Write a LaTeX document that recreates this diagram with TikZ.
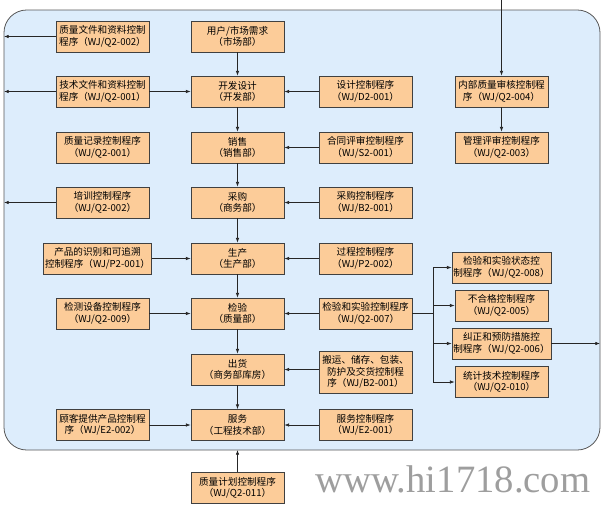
\documentclass[tikz,border=0pt]{standalone}
\usepackage{fontspec}
\usetikzlibrary{arrows.meta}
\setmainfont{Noto Sans CJK SC}
\newfontfamily\wmfont{Liberation Serif}
\definecolor{bgblue}{RGB}{221,237,252}
\definecolor{boxtan}{RGB}{252,204,153}
\tikzset{
  box/.style={draw=black!75, line width=0.6pt, fill=boxtan, align=center, inner sep=1pt,
    minimum width=69.75pt, minimum height=23.25pt, font=\fontsize{7.2}{8.6}\selectfont},
  arr/.style={-{Latex[length=3.5pt,width=2.6pt]}, line width=0.5pt, black!85},
  line/.style={line width=0.5pt, black!85}
}

\begin{document}
\begin{tikzpicture}[x=0.75pt, y=-0.75pt]
    \useasboundingbox (0,0) rectangle (608,507);
    \fill[white] (0,0) rectangle (608,507);
    \draw[fill=bgblue, draw=black!65, line width=0.6pt, rounded corners=17pt] (4,10) rectangle (600,450);
    \coordinate (lb) at (4,0);
    \coordinate (rb) at (600,0);
    \coordinate (bot) at (237.5,450);
    \coordinate (top) at (501.5,0);
    \coordinate (bus) at (433,0);
    % centre column
    \node[box] (user) at (237.5,36.5) {用户/市场需求\\（市场部）};
    \node[box] (dev) at (237.5,91.5) {开发设计\\（开发部）};
    \node[box] (sales) at (237.5,147.5) {销售\\（销售部）};
    \node[box] (purch) at (237.5,202.5) {采购\\（商务部）};
    \node[box] (prod) at (237.5,258.5) {生产\\（生产部）};
    \node[box] (insp) at (237.5,313.5) {检验\\（质量部）};
    \node[box] (ship) at (237.5,369.5) {出货\\（商务部库房）};
    \node[box] (serv) at (237.5,425) {服务\\（工程技术部）};
    \node[box] (plan) at (237.5,488) {质量计划控制程序\\（WJ/Q2-011）};
    % left column
    \node[box] (qdoc) at (102.5,36.5) {质量文件和资料控制\\程序（WJ/Q2-002）};
    \node[box] (tdoc) at (102.5,91.5) {技术文件和资料控制\\程序（WJ/Q2-001）};
    \node[box] (qrec) at (102.5,147.5) {质量记录控制程序\\（WJ/Q2-001）};
    \node[box] (train) at (102.5,202.5) {培训控制程序\\（WJ/Q2-002）};
    \node[box, minimum width=77.25pt] (ident) at (97.5,258.5) {产品的识别和可追溯\\控制程序（WJ/P2-001）};
    \node[box] (meas) at (102.5,313.5) {检测设备控制程序\\（WJ/Q2-009）};
    \node[box] (cust) at (102.5,425) {顾客提供产品控制程\\序（WJ/E2-002）};
    % right column
    \node[box] (dctl) at (365.5,91.5) {设计控制程序\\（WJ/D2-001）};
    \node[box] (cctl) at (365.5,147.5) {合同评审控制程序\\（WJ/S2-001）};
    \node[box] (pctl) at (365.5,202.5) {采购控制程序\\（WJ/B2-001）};
    \node[box] (proc) at (365.5,258.5) {过程控制程序\\（WJ/P2-002）};
    \node[box] (ictl) at (365.5,313.5) {检验和实验控制程序\\（WJ/Q2-007）};
    \node[box, minimum height=31.5pt] (hand) at (365.5,372) {搬运、储存、包装、\\防护及交货控制程\\序（WJ/B2-001）};
    \node[box] (sctl) at (365.5,425) {服务控制程序\\（WJ/E2-001）};
    % far right column
    \node[box] (audit) at (501.5,91.5) {内部质量审核控制程\\序（WJ/Q2-004）};
    \node[box] (review) at (501.5,147.5) {管理评审控制程序\\（WJ/Q2-003）};
    \node[box] (stat) at (501.5,267.5) {检验和实验状态控\\制程序（WJ/Q2-008）};
    \node[box] (ncon) at (501.5,305.5) {不合格控制程序\\（WJ/Q2-005）};
    \node[box] (corr) at (501.5,343.5) {纠正和预防措施控\\制程序（WJ/Q2-006）};
    \node[box] (tech) at (501.5,382) {统计技术控制程序\\（WJ/Q2-010）};
    % flow
    \draw[arr] (user) -- (dev);
    \draw[arr] (dev) -- (sales);
    \draw[arr] (sales) -- (purch);
    \draw[arr] (purch) -- (prod);
    \draw[arr] (prod) -- (insp);
    \draw[arr] (insp) -- (ship);
    \draw[arr] (ship) -- (serv);
    \draw[arr] (plan) -- (bot);
    \draw[arr] (qdoc) -- (qdoc -| lb);
    \draw[arr] (tdoc) -- (tdoc -| lb);
    \draw[arr] (train) -- (train -| lb);
    \draw[arr] (tdoc) -- (dev);
    \draw[arr] (ident) -- (prod);
    \draw[arr] (meas) -- (insp);
    \draw[arr] (cust) -- (serv);
    \draw[arr] (dctl) -- (dev);
    \draw[arr] (cctl) -- (sales);
    \draw[arr] (pctl) -- (purch);
    \draw[arr] (proc) -- (prod);
    \draw[arr] (ictl) -- (insp);
    \draw[arr] (ship -| hand.west) -- (ship);
    \draw[arr] (sctl) -- (serv);
    \draw[arr] (top) -- (audit);
    \draw[arr] (audit) -- (review);
    \draw[line] (ictl.east) -- (ictl.east -| bus);
    \draw[line] (stat.west -| bus) -- (tech.west -| bus);
    \foreach \n in {stat,ncon,corr,tech}
      \draw[arr] (\n.west -| bus) -- (\n.west);
    \draw[arr] (corr) -- (corr -| rb);
    \node[anchor=base, text=black!38, font=\wmfont\fontsize{29}{29}\selectfont] (site) at (453,492) {www.hi1718.com};
\end{tikzpicture}
\end{document}
